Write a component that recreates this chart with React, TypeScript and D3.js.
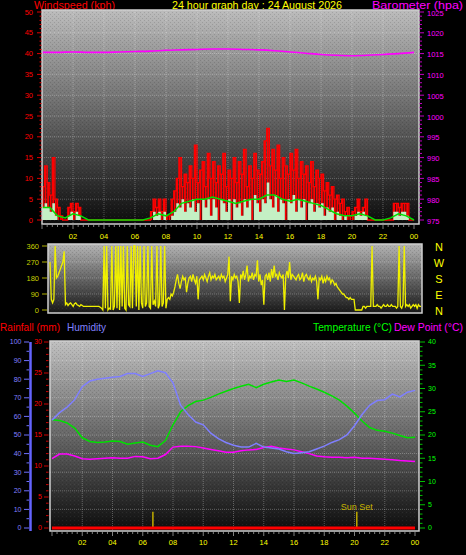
import React from "react";
import * as d3 from "d3";

const FONT = "'Liberation Sans', Arial, Helvetica, sans-serif";

// ---- Data ----
// wind gust / speed samples every 10 minutes (145 values, 00:00 .. 24:00)
const windGust = [
  8, 13, 9, 6, 15, 5, 3,
  1, 0, 0,
  3, 4, 2, 4, 3,
  0, 0, 0, 0, 0, 0, 0, 0, 0, 0, 0, 0, 0, 0, 0, 0, 0, 0, 0, 0, 0, 0, 0, 0, 0, 0, 0,
  2, 5, 3, 5, 2, 5, 1, 1,
  5, 7, 10, 15, 8, 11, 9, 13, 10, 18,
  9, 12, 14, 8, 16, 10, 14, 9, 13, 11, 16, 8,
  12, 10, 15, 9, 14, 11, 17, 8, 13, 10, 16, 12,
  11, 14, 19, 22, 13, 17, 12, 18, 10, 15, 13, 11,
  16, 12, 17, 10, 14, 11, 13, 9, 14, 8, 12, 10,
  11, 7, 9, 6, 8, 5, 6, 4, 5, 2, 3, 1,
  2, 3, 5, 2, 3, 5,
  0, 0, 0, 0, 0, 0, 0, 0, 0,
  0,
  4, 4, 3, 4, 4, 4,
  0, 0, 0,
];
const windSpeed = [
  3, 4, 3, 2, 4, 1, 0,
  0, 0, 0,
  1, 2, 0, 2, 1,
  0, 0, 0, 0, 0, 0, 0, 0, 0, 0, 0, 0, 0, 0, 0, 0, 0, 0, 0, 0, 0, 0, 0, 0, 0, 0, 0,
  0, 2, 1, 2, 0, 2, 0, 0,
  1, 2, 4, 3, 5, 2, 4, 3, 5, 2,
  4, 0, 5, 3, 5, 1, 5, 3, 0, 5, 4, 2,
  5, 0, 5, 3, 4, 1, 5, 3, 5, 0, 6, 4,
  2, 5, 4, 9, 5, 3, 6, 2, 5, 4, 0, 5,
  4, 6, 2, 5, 3, 5, 0, 4, 5, 2, 4, 3,
  4, 1, 3, 2, 3, 0, 2, 1, 0, 1, 0, 0,
  0, 1, 2, 1, 2, 1,
  0, 0, 0, 0, 0, 0, 0, 0, 0,
  0,
  2, 2, 1, 2, 2, 1,
  0, 0, 0,
];
// wind direction every 5 minutes (289 values), one row per hour
const windDir = [
  270, 60, 40, 60, 360, 180, 190, 210, 230, 250, 270, 330,
  30, 40, 25, 35, 40, 30, 20, 35, 40, 30, 25, 20,
  30, 25, 20, 20, 20, 20, 20, 20, 20, 20, 20, 20,
  20, 20, 20, 15, 10, 0, 360, 10, 360, 0, 10, 5,
  360, 0, 20, 360, 10, 360, 0, 360, 20, 360, 10, 0,
  360, 30, 20, 360, 10, 360, 360, 20, 360, 0, 360, 40,
  10, 360, 20, 40, 360, 20, 10, 360, 30, 50, 20, 360,
  10, 30, 360, 20, 40, 360, 10, 60, 70, 60, 90, 80,
  100, 130, 170, 200, 150, 120, 160, 190, 170, 180, 100, 150,
  180, 190, 160, 200, 170, 150, 190, 60, 170, 180, 190, 170,
  200, 180, 160, 190, 210, 170, 190, 180, 200, 170, 180, 190,
  170, 200, 180, 190, 160, 180, 200, 300, 50, 190, 170, 200,
  180, 190, 160, 40, 200, 180, 220, 170, 200, 250, 160, 190,
  180, 210, 170, 200, 190, 280, 160, 200, 140, 170, 30, 190,
  200, 170, 210, 160, 230, 180, 250, 190, 200, 170, 210, 190,
  180, 200, 0, 190, 220, 180, 270, 170, 200, 190, 180, 170,
  190, 200, 170, 180, 210, 160, 190, 200, 180, 170, 190, 160,
  180, 170, 190, 160, 60, 180, 170, 190, 150, 180, 160, 190,
  170, 180, 150, 170, 160, 140, 150, 130, 120, 110, 100, 90,
  90, 80, 70, 70, 60, 70, 60, 60, 60, 0, 0, 0,
  0, 0, 0, 20, 20, 10, 20, 20, 20, 20, 360, 20,
  20, 20, 30, 20, 20, 10, 20, 30, 20, 20, 30, 20,
  20, 30, 20, 20, 20, 10, 20, 360, 20, 10, 30, 360,
  20, 30, 20, 30, 10, 20, 30, 20, 30, 10, 30, 20,
  20,
];
// average wind every 30 minutes (49 values)
const windAvg = [
  3, 3, 1, 0.5, 1.5, 1, 0, 0, 0, 0, 0, 0, 0, 0, 0.5, 1.5, 1, 2, 4, 4.5, 5, 5, 5.5, 5,
  4.5, 4, 4.5, 5, 5, 6, 6, 5, 4.5, 5, 4.5, 4, 3.5, 2.5, 1.5, 1, 1, 1.5, 1, 0, 0, 0.5, 1.5, 1, 0,
];
// hourly (25 values)
const barometer = [
  1015.3, 1015.3, 1015.4, 1015.3, 1015.3, 1015.4, 1015.5, 1015.6, 1015.8, 1015.9, 1016.0, 1016.1,
  1016.1, 1016.0, 1015.9, 1015.7, 1015.4, 1015.1, 1014.8, 1014.6, 1014.5, 1014.6, 1014.8, 1015.0, 1015.3,
];
const rainfall = [0, 0, 0, 0, 0, 0, 0, 0, 0, 0, 0, 0, 0, 0, 0, 0, 0, 0, 0, 0, 0, 0, 0, 0, 0];
// every 30 minutes (49 values)
const humidity = [
  58, 62, 65, 69, 76, 79, 80, 80.5, 81, 81.5, 83, 83, 81.5, 83, 84.5, 83.5, 78, 66, 61, 57, 55.5, 51, 48, 46,
  44.5, 43.5, 43.5, 45.5, 43.5, 43, 42.5, 41, 40, 40.5, 41, 42.5, 44, 46, 47.5, 50, 55, 61, 66, 68.5, 69, 72, 70.5, 73, 74,
];
const temperature = [
  23.3, 23.1, 22.6, 21.5, 19.4, 18.6, 18.4, 18.5, 18.7, 18.6, 18.0, 18.3, 18.5, 17.8, 17.5, 18.8, 22.2, 25.0, 26.3, 27.2,
  27.5, 28.1, 28.8, 29.4, 30.0, 30.5, 30.9, 30.2, 30.9, 31.4, 31.8, 31.5, 31.8, 31.2, 30.5, 29.9, 29.2, 28.4, 27.5, 26.2,
  24.7, 23.0, 21.6, 21.0, 20.8, 20.4, 19.9, 19.4, 19.5,
];
const dewPoint = [
  14.9, 15.9, 15.9, 15.5, 14.9, 14.8, 14.9, 15.0, 15.1, 15.0, 15.0, 15.4, 15.3, 14.9, 15.0, 15.8, 17.4, 17.6, 17.6, 17.5,
  17.2, 16.9, 16.6, 16.3, 16.3, 16.6, 16.8, 16.9, 17.3, 17.6, 17.2, 17.0, 16.8, 16.4, 16.0, 15.5, 15.3, 15.2, 15.2, 15.1,
  15.2, 15.0, 15.0, 14.9, 14.8, 14.7, 14.5, 14.4, 14.3,
];
const hourTicks = [2, 4, 6, 8, 10, 12, 14, 16, 18, 20, 22, 24];
const hourLabels = ["02", "04", "06", "08", "10", "12", "14", "16", "18", "20", "22", "00"];
const windTicks = [0, 5, 10, 15, 20, 25, 30, 35, 40, 45, 50];
const baroTicks = [975, 980, 985, 990, 995, 1000, 1005, 1010, 1015, 1020, 1025];
const dirTicks = [0, 90, 180, 270, 360];
const compass = ["N", "W", "S", "E", "N"];
const humTicks = [0, 10, 20, 30, 40, 50, 60, 70, 80, 90, 100];
const rainTicks = [0, 5, 10, 15, 20, 25, 30];
const tempTicks = [0, 5, 10, 15, 20, 25, 30, 35, 40];
const sunRise = 6.67;
const sunSet = 20.15;

const t5 = (i: number) => i / 12;
const t10 = (i: number) => i / 6;
const t30 = (i: number) => i / 2;
const t60 = (i: number) => i;

function Frame({ x, y, w, h, grad }: any) {
  return (
    <g>
      <rect x={x} y={y} width={w} height={h} fill={`url(#${grad})`} />
      <rect x={x} y={y} width={w} height={h} fill="url(#dither)" opacity={0.5} />
    </g>
  );
}

function Label({ x, y, len, color, anchor, children }: any) {
  return (
    <text x={x} y={y} fontSize={11} fill={color} textAnchor={anchor || "start"} textLength={len} lengthAdjust="spacingAndGlyphs">
      {children}
    </text>
  );
}

export default function App() {
  // top panel
  const xTop = d3.scaleLinear().domain([0, 24]).range([42, 414]);
  const yWind = d3.scaleLinear().domain([0, 50]).range([220, 12]);
  const yBaro = d3.scaleLinear().domain([975, 1025]).range([220, 12]);
  // middle panel
  const xMid = d3.scaleLinear().domain([0, 24]).range([50, 421]);
  const yDir = d3.scaleLinear().domain([0, 360]).range([310, 246]);
  const yCompass = d3.scaleLinear().domain([0, compass.length - 1]).range([247, 311]);
  // bottom panel
  const xBot = d3.scaleLinear().domain([0, 24]).range([52, 415]);
  const yHum = d3.scaleLinear().domain([0, 100]).range([528, 342]);
  const yRain = d3.scaleLinear().domain([0, 30]).range([528, 342]);
  const yTemp = d3.scaleLinear().domain([0, 40]).range([528, 342]);

  const top = { x: 42, y: 10, w: 377, h: 214 };
  const mid = { x: 48, y: 244, w: 374, h: 69 };
  const bot = { x: 50, y: 341, w: 369, h: 190 };

  const gustPath = d3.line<number>().x((d, i) => xTop(t10(i))).y((d) => yWind(d)).curve(d3.curveStepAfter)(windGust) || "";
  const speedPath =
    d3.area<number>().x((d, i) => xTop(t10(i))).y0(yWind(0)).y1((d) => yWind(d)).curve(d3.curveStepAfter)(windSpeed) || "";
  const avgPath = d3.line<number>().x((d, i) => xTop(t30(i))).y((d) => yWind(d))(windAvg) || "";
  const baroPath = d3.line<number>().x((d, i) => xTop(t60(i))).y((d) => yBaro(d)).curve(d3.curveMonotoneX)(barometer) || "";
  const dirPath = d3.line<number>().x((d, i) => xMid(t5(i))).y((d) => yDir(d))(windDir) || "";
  const humPath = d3.line<number>().x((d, i) => xBot(t30(i))).y((d) => yHum(d))(humidity) || "";
  const tempPath = d3.line<number>().x((d, i) => xBot(t30(i))).y((d) => yTemp(d))(temperature) || "";
  const dewPath = d3.line<number>().x((d, i) => xBot(t30(i))).y((d) => yTemp(d))(dewPoint) || "";
  const rainPath = d3.line<number>().x((d, i) => xBot(t60(i))).y((d) => yRain(d))(rainfall) || "";

  const minorTop = d3.range(0, 51);
  const minorBaro = d3.range(975, 1026);
  const minutes20 = d3.range(0, 73).map((i) => i / 3);
  const gridStyle = { stroke: "#ffffff", strokeOpacity: 0.28, strokeDasharray: "1,1", strokeWidth: 1 };

  return (
    <svg
      width={466}
      height={555}
      style={{ position: "absolute", left: 0, top: 0, display: "block" }}
      fontFamily={FONT}
    >
      <defs>
        <linearGradient id="gTop" x1="0" y1="0" x2="0" y2="1">
          <stop offset="0" stopColor="#bcbcbc" />
          <stop offset="1" stopColor="#0c0c0c" />
        </linearGradient>
        <linearGradient id="gMid" x1="0" y1="0" x2="0" y2="1">
          <stop offset="0" stopColor="#b4b4b4" />
          <stop offset="1" stopColor="#181818" />
        </linearGradient>
        <linearGradient id="gBot" x1="0" y1="0" x2="0" y2="1">
          <stop offset="0" stopColor="#c0c0c0" />
          <stop offset="1" stopColor="#0c0c0c" />
        </linearGradient>
        <pattern id="dither" width="4" height="4" patternUnits="userSpaceOnUse">
          <rect x="0" y="0" width="1" height="1" fill="#000" opacity="0.25" />
          <rect x="2" y="2" width="1" height="1" fill="#000" opacity="0.25" />
          <rect x="2" y="0" width="1" height="1" fill="#fff" opacity="0.12" />
        </pattern>
      </defs>
      <rect x={0} y={0} width={466} height={555} fill="#000" />

      {/* ===== Headers ===== */}
      <Label x={34} y={8.5} len={81} color="#ff0000">Windspeed (kph)</Label>
      <Label x={172} y={8.5} len={170} color="#ffff00">24 hour graph day : 24 August 2026</Label>
      <Label x={372} y={8.5} len={91} color="#ff00ff">Barometer (hpa)</Label>

      {/* ===== Top panel ===== */}
      <Frame x={top.x} y={top.y} w={top.w} h={top.h} grad="gTop" />
      {windTicks.slice(1, -1).map((v) => (
        <line key={"gw" + v} x1={top.x} x2={top.x + top.w} y1={yWind(v)} y2={yWind(v)} {...gridStyle} />
      ))}
      {hourTicks.slice(0, -1).map((h) => (
        <line key={"gv" + h} x1={xTop(h)} x2={xTop(h)} y1={top.y} y2={top.y + top.h} {...gridStyle} />
      ))}
      <path d={baroPath} fill="none" stroke="#ff00ff" strokeWidth={1.6} />
      {windGust.map((g, i) =>
        g > 0 ? (
          <rect key={"gb" + i} x={xTop(t10(i))} y={yWind(g)} width={1.8} height={yWind(0) - yWind(g)} fill="#ff0000" />
        ) : null
      )}
      <path d={gustPath} fill="none" stroke="#ff0000" strokeWidth={1.3} />
      <path d={speedPath} fill="#c4f0c4" stroke="none" />
      <path d={avgPath} fill="none" stroke="#00e000" strokeWidth={1.5} />
      <rect x={top.x} y={top.y} width={top.w} height={top.h} fill="none" stroke="#cfcfcf" strokeWidth={1.5} />
      {minorTop.map((v) => (
        <line key={"tw" + v} x1={v % 5 === 0 ? 37 : 39.5} x2={41.5} y1={yWind(v)} y2={yWind(v)} stroke="#e00000" strokeWidth={1} />
      ))}
      {windTicks.map((v) => (
        <text key={"lw" + v} x={33} y={yWind(v)} dy="0.35em" fontSize={7.5} fill="#ff0000" textAnchor="end">{v}</text>
      ))}
      {minorBaro.map((v) => (
        <line key={"tb" + v} x1={419.5} x2={v % 5 === 0 ? 424 : 422} y1={yBaro(v)} y2={yBaro(v)} stroke="#c000c0" strokeWidth={1} />
      ))}
      {baroTicks.map((v) => (
        <text key={"lb" + v} x={427} y={yBaro(v) + 1} dy="0.35em" fontSize={7.5} fill="#ff00ff">{v}</text>
      ))}
      {minutes20.map((h, i) => (
        <line key={"xt" + i} x1={xTop(h)} x2={xTop(h)} y1={225} y2={i % 6 === 0 ? 229 : 227} stroke="#808080" strokeWidth={1} />
      ))}
      {hourTicks.map((h, i) => (
        <text key={"hl" + h} x={xTop(h)} y={239} fontSize={7.5} fill="#ffff00" textAnchor="middle">{hourLabels[i]}</text>
      ))}

      {/* ===== Middle panel (wind direction) ===== */}
      <Frame x={mid.x} y={mid.y} w={mid.w} h={mid.h} grad="gMid" />
      {dirTicks.slice(1, -1).map((v) => (
        <line key={"gd" + v} x1={mid.x} x2={mid.x + mid.w} y1={yDir(v)} y2={yDir(v)} {...gridStyle} />
      ))}
      <path d={dirPath} fill="none" stroke="#f0f000" strokeWidth={1.3} />
      <rect x={mid.x} y={mid.y} width={mid.w} height={mid.h} fill="none" stroke="#cfcfcf" strokeWidth={1.5} />
      {dirTicks.map((v) => (
        <g key={"ld" + v}>
          <line x1={42} x2={47} y1={yDir(v)} y2={yDir(v)} stroke="#b0b000" />
          <text x={39} y={yDir(v)} dy="0.35em" fontSize={7.5} fill="#c8d000" textAnchor="end">{v}</text>
        </g>
      ))}
      {compass.map((c, i) => (
        <text key={"cp" + i} x={439} y={yCompass(i)} dy="0.35em" fontSize={11} fill="#ffff00" textAnchor="middle">{c}</text>
      ))}

      {/* ===== Bottom headers ===== */}
      <Label x={0} y={331} len={60} color="#ff0000">Rainfall (mm)</Label>
      <Label x={67} y={331} len={39} color="#8080ff">Humidity</Label>
      <Label x={313} y={331} len={79} color="#00ff00">Temperature (°C)</Label>
      <Label x={394} y={331} len={69} color="#ff00ff">Dew Point (°C)</Label>

      {/* ===== Bottom panel ===== */}
      <Frame x={bot.x} y={bot.y} w={bot.w} h={bot.h} grad="gBot" />
      {humTicks.slice(1, -1).map((v) => (
        <line key={"gh" + v} x1={bot.x} x2={bot.x + bot.w} y1={yHum(v)} y2={yHum(v)} {...gridStyle} />
      ))}
      {hourTicks.slice(0, -1).map((h) => (
        <line key={"gbv" + h} x1={xBot(h)} x2={xBot(h)} y1={bot.y} y2={bot.y + bot.h} {...gridStyle} />
      ))}
      <path d={dewPath} fill="none" stroke="#ff00ff" strokeWidth={1.5} />
      <path d={tempPath} fill="none" stroke="#00e000" strokeWidth={1.5} />
      <path d={humPath} fill="none" stroke="#7f7fff" strokeWidth={1.5} />
      <line x1={xBot(sunRise)} x2={xBot(sunRise)} y1={yTemp(3.5)} y2={yTemp(0)} stroke="#b8a400" strokeWidth={1.6} />
      <line x1={xBot(sunSet)} x2={xBot(sunSet)} y1={yTemp(3.5)} y2={yTemp(0)} stroke="#b8a400" strokeWidth={1.6} />
      <text x={xBot(sunSet)} y={510} fontSize={9} fill="#c8b400" textAnchor="middle">Sun Set</text>
      <path d={rainPath} fill="none" stroke="#ff0000" strokeWidth={3} />
      <rect x={bot.x} y={bot.y} width={bot.w} height={bot.h} fill="none" stroke="#cfcfcf" strokeWidth={1.5} />
      {/* humidity axis */}
      <line x1={30.5} x2={30.5} y1={yHum(100)} y2={531} stroke="#6464ff" strokeWidth={2.5} />
      {d3.range(0, 101, 5).map((v) => (
        <line key={"th" + v} x1={v % 10 === 0 ? 24 : 26.5} x2={29} y1={yHum(v)} y2={yHum(v)} stroke="#7070ff" />
      ))}
      {humTicks.map((v) => (
        <text key={"lh" + v} x={21.5} y={yHum(v)} dy="0.35em" fontSize={7} fill="#8080ff" textAnchor="end">{v}</text>
      ))}
      {/* rain axis */}
      {d3.range(0, 31).map((v) => (
        <line key={"tr" + v} x1={v % 5 === 0 ? 44 : 46} x2={48.5} y1={yRain(v)} y2={yRain(v)} stroke="#d00000" />
      ))}
      {rainTicks.map((v) => (
        <text key={"lr" + v} x={42} y={yRain(v)} dy="0.35em" fontSize={7} fill="#ff0000" textAnchor="end">{v}</text>
      ))}
      {/* temperature axis */}
      {d3.range(0, 41).map((v) => (
        <line key={"tt" + v} x1={420} x2={v % 5 === 0 ? 425 : 422.5} y1={yTemp(v)} y2={yTemp(v)} stroke="#00c000" />
      ))}
      {tempTicks.map((v) => (
        <text key={"lt" + v} x={428} y={yTemp(v)} dy="0.35em" fontSize={7} fill="#00ff00">{v}</text>
      ))}
      {minutes20.map((h, i) => (
        <line key={"bt" + i} x1={xBot(h)} x2={xBot(h)} y1={532} y2={i % 6 === 0 ? 536 : 534} stroke="#808080" strokeWidth={1} />
      ))}
      {hourTicks.map((h, i) => (
        <text key={"bl" + h} x={xBot(h)} y={545} fontSize={7.5} fill="#ffff00" textAnchor="middle">{hourLabels[i]}</text>
      ))}
    </svg>
  );
}
